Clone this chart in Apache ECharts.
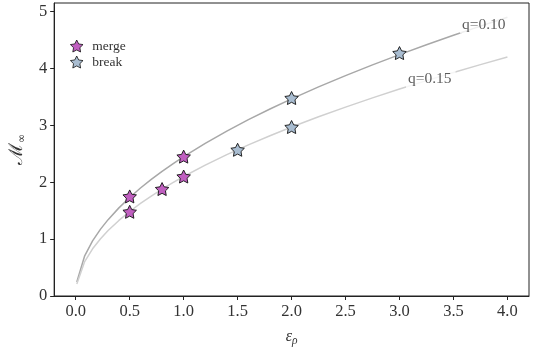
<!DOCTYPE html>
<html>
<head>
<meta charset="utf-8">
<script src="https://cdn.jsdelivr.net/npm/echarts@6/dist/echarts.min.js"></script>
<style>
  html, body { margin: 0; padding: 0; background: #fff; }
  #chart { width: 534px; height: 352px; }
</style>
</head>
<body>
<div id="chart"></div>
<script>
// Sampled curves M_inf(eps_rho) for two q values
const epsGrid = [0.01, 0.083, 0.156, 0.23, 0.3, 0.4, 0.5, 0.6, 0.7, 0.8, 0.9, 1.0,
  1.2, 1.4, 1.6, 1.8, 2.0, 2.25, 2.5, 2.75, 3.0, 3.25, 3.5, 3.75, 4.0];
const curveQ010 = [0.245, 0.706, 0.968, 1.175, 1.342, 1.549, 1.732, 1.898, 2.050, 2.191, 2.324, 2.45,
  2.684, 2.899, 3.099, 3.287, 3.465, 3.675, 3.874, 4.063, 4.243, 4.417, 4.583, 4.744, 4.90];
const curveQ015 = [0.21, 0.605, 0.829, 1.007, 1.150, 1.328, 1.485, 1.627, 1.757, 1.878, 1.992, 2.10,
  2.300, 2.485, 2.656, 2.817, 2.970, 3.15, 3.320, 3.483, 3.637, 3.786, 3.929, 4.067, 4.20];

// Simulation outcomes
const mergeEps = [0.5, 0.5, 0.8, 1.0, 1.0];
const mergeM   = [1.75, 1.48, 1.88, 2.45, 2.10];
const breakEps = [1.5, 2.0, 2.0, 3.0];
const breakM   = [2.57, 2.97, 3.48, 4.27];

// Inline curve labels
const curveLabels = ['q=0.10', 'q=0.15'];
const curveLabelEps = [3.79, 3.29];
const curveLabelM = [4.77, 3.81];

const xTicks = [0, 0.5, 1.0, 1.5, 2.0, 2.5, 3.0, 3.5, 4.0];

const serif = '"Liberation Serif", "DejaVu Serif", serif';
const star = 'path://M0,-10L2.94,-4.05L9.51,-3.09L4.76,1.55L5.88,8.09L0,5L-5.88,8.09L-4.76,1.55L-9.51,-3.09L-2.94,-4.05Z';

const zip = (a, b) => a.map((v, i) => [v, b[i]]);

const chart = echarts.init(document.getElementById('chart'), null, { renderer: 'canvas' });
chart.setOption({
  animation: false,
  backgroundColor: '#fff',
  grid: { left: 54, right: 5, top: 3, bottom: 52, show: true, borderColor: '#222', borderWidth: 1 },
  legend: {
    left: 65, top: 34, orient: 'vertical', itemGap: 2,
    itemWidth: 13, itemHeight: 12,
    itemStyle: { borderWidth: 0.8 },
    textStyle: { fontFamily: serif, fontSize: 13.5, color: '#333', padding: [0, 0, 0, 4] },
    data: [{ name: 'merge', icon: star }, { name: 'break', icon: star }]
  },
  xAxis: {
    type: 'value', min: -0.2, max: 4.2,
    splitLine: { show: false },
    axisLine: { onZero: false, lineStyle: { color: '#222' } },
    axisTick: { show: true, length: 4, inside: false, lineStyle: { color: '#222' },
      customValues: xTicks },
    axisLabel: { fontFamily: serif, fontSize: 16.5, color: '#333', margin: 7,
      customValues: xTicks, formatter: v => v.toFixed(1) },
    name: '{e|ε}{s|ρ}', nameLocation: 'middle', nameGap: 31,
    nameTextStyle: { rich: {
      e: { fontFamily: serif, fontStyle: 'italic', fontSize: 16, color: '#333' },
      s: { fontFamily: serif, fontStyle: 'italic', fontSize: 11.5, color: '#333', padding: [8, 0, 0, 0] }
    } }
  },
  yAxis: {
    type: 'value', min: 0, max: 5.15, interval: 1,
    splitLine: { show: false },
    axisLine: { show: true, onZero: false, lineStyle: { color: '#222' } },
    axisTick: { show: true, length: 4, lineStyle: { color: '#222' } },
    axisLabel: { fontFamily: serif, fontSize: 16.5, color: '#333', margin: 7,
      showMaxLabel: false, formatter: v => (v > 5 ? '' : String(v)) },
    name: '{m|ℳ}{s|∞}', nameLocation: 'middle', nameGap: 25, nameRotate: 90,
    nameTextStyle: { rich: {
      m: { fontFamily: '"DejaVu Serif", serif', fontSize: 19, color: '#333' },
      s: { fontFamily: '"DejaVu Sans", sans-serif', fontSize: 11, color: '#333', padding: [10, 0, 0, 0] }
    } }
  },
  series: [
    {
      name: 'q=0.10', type: 'line', data: zip(epsGrid, curveQ010),
      showSymbol: false, symbol: 'none', z: 2,
      lineStyle: { color: '#a8a8a8', width: 1.5 }
    },
    {
      name: 'q=0.15', type: 'line', data: zip(epsGrid, curveQ015),
      showSymbol: false, symbol: 'none', z: 2,
      lineStyle: { color: '#d0d0d0', width: 1.5 }
    },
    {
      name: 'curve labels', type: 'scatter', z: 4, silent: true,
      data: curveLabels.map((t, i) => ({ value: [curveLabelEps[i], curveLabelM[i]], name: t })),
      symbolSize: 1, itemStyle: { color: 'rgba(0,0,0,0)' },
      label: {
        show: true, position: 'inside', formatter: p => p.name,
        fontFamily: serif, fontSize: 15.5, color: '#333',
        backgroundColor: '#fff', padding: [1, 4, 1, 2]
      }
    },
    {
      name: 'merge', type: 'scatter', data: zip(mergeEps, mergeM), z: 5,
      symbol: star, symbolSize: [13.5, 13],
      itemStyle: { color: '#c05fc0', borderColor: '#111', borderWidth: 0.9, opacity: 1 }
    },
    {
      name: 'break', type: 'scatter', data: zip(breakEps, breakM), z: 5,
      symbol: star, symbolSize: [13.5, 13],
      itemStyle: { color: '#a9bdd1', borderColor: '#111', borderWidth: 0.9, opacity: 1 }
    }
  ]
});
</script>
</body>
</html>
